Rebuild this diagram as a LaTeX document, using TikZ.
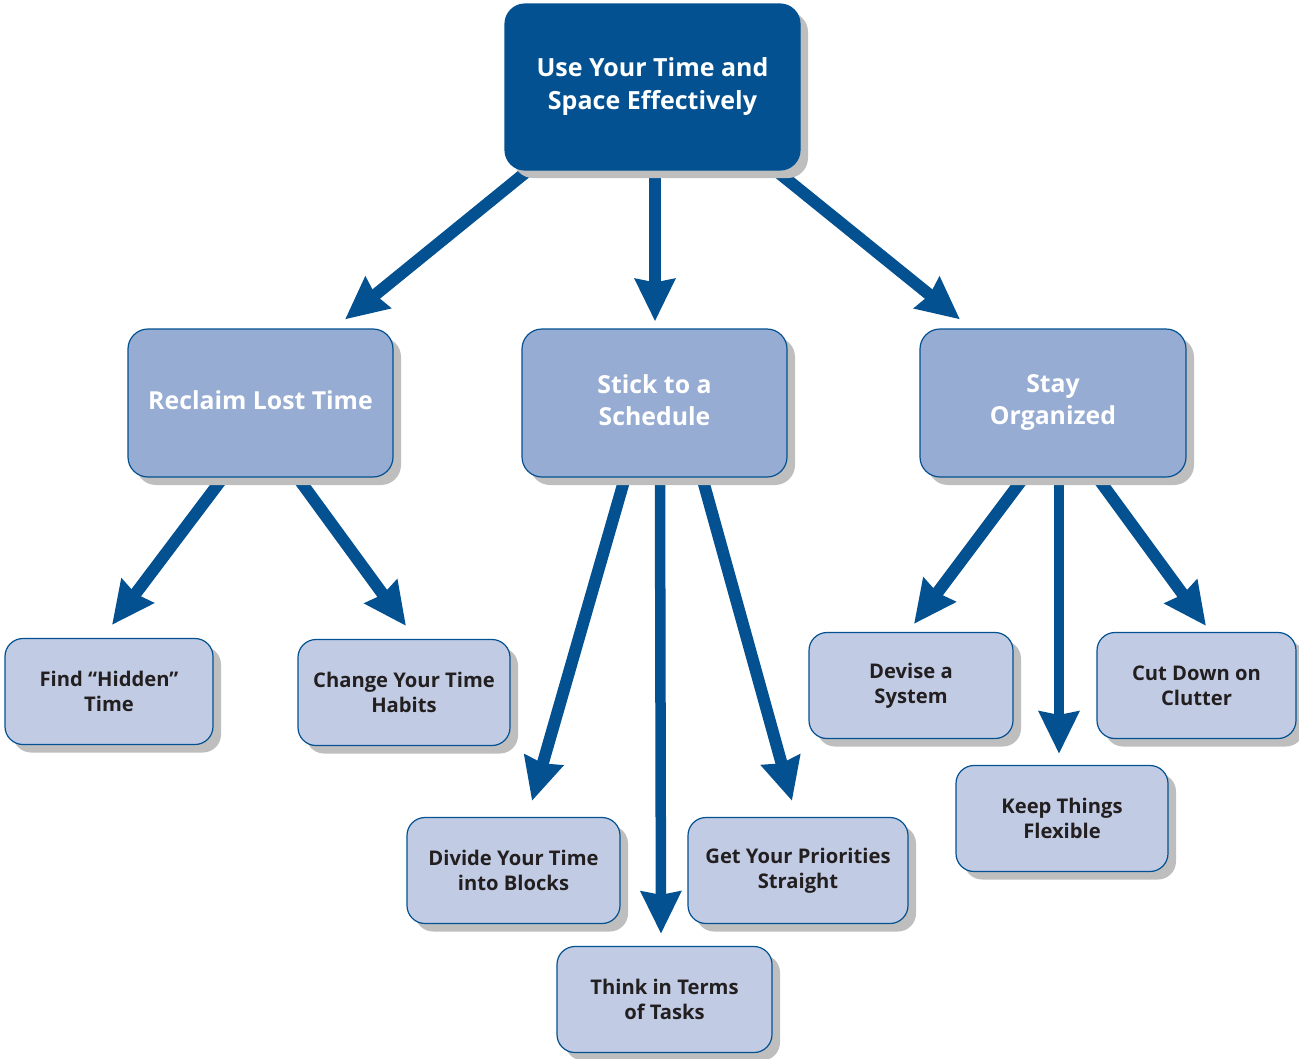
\documentclass[tikz,border=0pt]{standalone}
\usepackage{fontspec}
\setmainfont{Open Sans}
\usetikzlibrary{arrows.meta,shadows,backgrounds}
\definecolor{dkblue}{RGB}{3,81,145}
\definecolor{midfill}{RGB}{151,172,211}
\definecolor{lightfill}{RGB}{193,204,228}
\definecolor{shadowgray}{RGB}{190,190,190}
\definecolor{txtdark}{RGB}{35,31,32}
\tikzset{
  shad/.style={drop shadow={shadow xshift=8pt,shadow yshift=-8pt,fill=shadowgray,opacity=1}},
  topbox/.style={shad,fill=dkblue,draw=dkblue,line width=1.2pt,rounded corners=20pt,
    text=white,align=center,inner sep=0pt,font=\bfseries\fontsize{25}{33}\selectfont},
  midbox/.style={shad,fill=midfill,draw=dkblue,line width=1.2pt,rounded corners=20pt,
    minimum width=265pt,minimum height=148pt,text depth=6pt,
    text=white,align=center,inner sep=0pt,font=\bfseries\fontsize{24.8}{32}\selectfont},
  leafbox/.style={shad,fill=lightfill,draw=dkblue,line width=1.2pt,rounded corners=18pt,
    minimum height=106pt,
    text=txtdark,align=center,inner sep=0pt,font=\bfseries\fontsize{20.2}{25}\selectfont},
  arr/.style={line width=12pt,draw=dkblue,-{Stealth[length=42pt,width=39pt,inset=3pt]}}
}
\begin{document}
\begin{tikzpicture}[x=1pt,y=-1pt]
\useasboundingbox (0,0) rectangle (1299,1058);
% nodes
\node[topbox,minimum width=295pt,minimum height=166pt] (top) at (652.5,87) {Use Your Time and\\Space Effectively};
\node[midbox] (reclaim) at (260.5,403) {Reclaim Lost Time};
\node[midbox] (stick) at (654.5,403) {Stick to a\\Schedule};
\node[midbox,minimum width=266pt] (stay) at (1053,403) {Stay\\Organized};
\node[leafbox,minimum width=208pt] (find) at (109,691.5) {Find “Hidden”\\Time};
\node[leafbox,minimum width=212pt] (change) at (404,692.5) {Change Your Time\\Habits};
\node[leafbox,minimum width=213pt] (divide) at (513.5,870.5) {Divide Your Time\\into Blocks};
\node[leafbox,minimum width=215pt] (think) at (664.5,999.5) {Think in Terms\\of Tasks};
\node[leafbox,minimum width=220pt] (getp) at (798,870.5) {Get Your Priorities\\Straight};
\node[leafbox,minimum width=204pt] (devise) at (911,685.5) {Devise a\\System};
\node[leafbox,minimum width=212pt] (keep) at (1062,818.5) {Keep Things\\Flexible};
\node[leafbox,minimum width=199pt] (cut) at (1196.5,685.5) {Cut Down on\\Clutter};
% connectors
\begin{scope}[on background layer]
\draw[arr] ([xshift=-124.5pt]top.south) -- ([xshift=84.5pt,yshift=9pt]reclaim.north);
\draw[arr] ([xshift=2.5pt]top.south) -- ([xshift=0.5pt,yshift=7pt]stick.north);
\draw[arr] ([xshift=123.5pt]top.south) -- ([xshift=-93pt,yshift=9pt]stay.north);
\draw[arr] ([xshift=-37.5pt]reclaim.south) -- ([xshift=3pt,yshift=13pt]find.north);
\draw[arr] ([xshift=37.2pt]reclaim.south) -- ([xshift=2pt,yshift=13pt]change.north);
\draw[arr] ([xshift=-29.5pt]stick.south) -- ([xshift=18.5pt,yshift=16pt]divide.north);
\draw[arr,line width=10.5pt] ([xshift=5.5pt]stick.south) -- ([xshift=-3.5pt,yshift=12pt]think.north);
\draw[arr] ([xshift=47.7pt]stick.south) -- ([xshift=-6pt,yshift=16pt]getp.north);
\draw[arr] ([xshift=-29.3pt]stay.south) -- ([xshift=3pt,yshift=8pt]devise.north);
\draw[arr,line width=10.5pt] ([xshift=6pt]stay.south) -- ([xshift=-3pt,yshift=11pt]keep.north);
\draw[arr] ([xshift=44.5pt]stay.south) -- ([xshift=9.5pt,yshift=6pt]cut.north);
\end{scope}
\end{tikzpicture}
\end{document}
